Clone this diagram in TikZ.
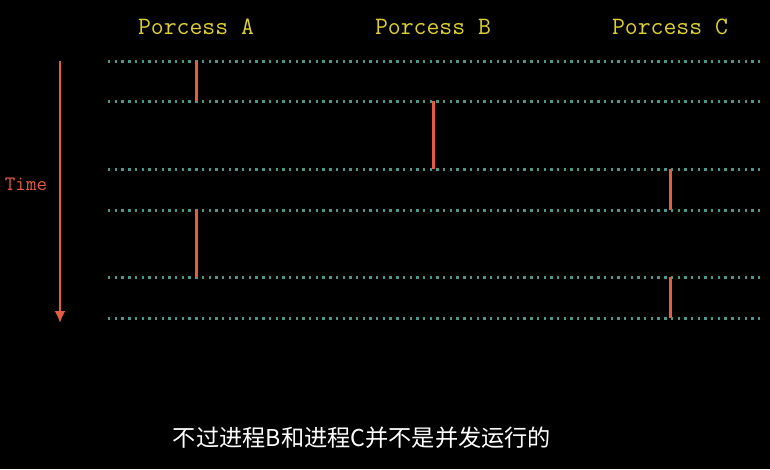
\documentclass[tikz,border=0pt]{standalone}
\usepackage{fontspec}
\usetikzlibrary{arrows.meta}
\newfontfamily\cjk{Noto Sans CJK SC}
\definecolor{procyellow}{RGB}{222,208,52}
\definecolor{timered}{RGB}{228,92,66}
\definecolor{dotteal}{RGB}{78,150,138}
\begin{document}
\begin{tikzpicture}[x=1pt,y=-1pt]
\useasboundingbox[fill=black] (0,0) rectangle (770,469);

\node[text=procyellow,font=\ttfamily\fontsize{25}{28}\selectfont] (pa) at (196,27) {Porcess A};
\node[text=procyellow,font=\ttfamily\fontsize{25}{28}\selectfont] (pb) at (433,27) {Porcess B};
\node[text=procyellow,font=\ttfamily\fontsize{25}{28}\selectfont] (pc) at (670,27) {Porcess C};
\node[text=timered,font=\ttfamily\fontsize{20.5}{24}\selectfont] (time) at (26,184) {Time};
\node[text=white,font=\cjk\fontsize{23.2}{27}\selectfont] (note) at (362,438) {不过进程B和进程C并不是并发运行的};

\coordinate (t0) at (60,61);
\coordinate (t1) at (60,323);
\path[draw=timered,line width=2.6pt,-{Latex[length=12pt,width=11pt]}] (t0) -- (t1);

\coordinate (l1) at (108,61);  \coordinate (r1) at (762,61);
\coordinate (l2) at (108,101); \coordinate (r2) at (762,101);
\coordinate (l3) at (108,169); \coordinate (r3) at (762,169);
\coordinate (l4) at (108,210); \coordinate (r4) at (762,210);
\coordinate (l5) at (108,277); \coordinate (r5) at (762,277);
\coordinate (l6) at (108,318); \coordinate (r6) at (762,318);

\path[draw=dotteal,line width=3pt,dash pattern=on 2.4pt off 4.3pt] (l1) -- (r1);
\path[draw=dotteal,line width=3pt,dash pattern=on 2.4pt off 4.3pt] (l2) -- (r2);
\path[draw=dotteal,line width=3pt,dash pattern=on 2.4pt off 4.3pt] (l3) -- (r3);
\path[draw=dotteal,line width=3pt,dash pattern=on 2.4pt off 4.3pt] (l4) -- (r4);
\path[draw=dotteal,line width=3pt,dash pattern=on 2.4pt off 4.3pt] (l5) -- (r5);
\path[draw=dotteal,line width=3pt,dash pattern=on 2.4pt off 4.3pt] (l6) -- (r6);

\coordinate (a1) at (196,61);  \coordinate (a2) at (196,101);
\coordinate (b1) at (433,101); \coordinate (b2) at (433,169);
\coordinate (c1) at (670,169); \coordinate (c2) at (670,210);
\coordinate (a3) at (196,210); \coordinate (a4) at (196,277);
\coordinate (c3) at (670,277); \coordinate (c4) at (670,318);

\path[draw=timered,line width=3pt] (a1) -- (a2);
\path[draw=timered,line width=3pt] (b1) -- (b2);
\path[draw=timered,line width=3pt] (c1) -- (c2);
\path[draw=timered,line width=3pt] (a3) -- (a4);
\path[draw=timered,line width=3pt] (c3) -- (c4);
\end{tikzpicture}
\end{document}
